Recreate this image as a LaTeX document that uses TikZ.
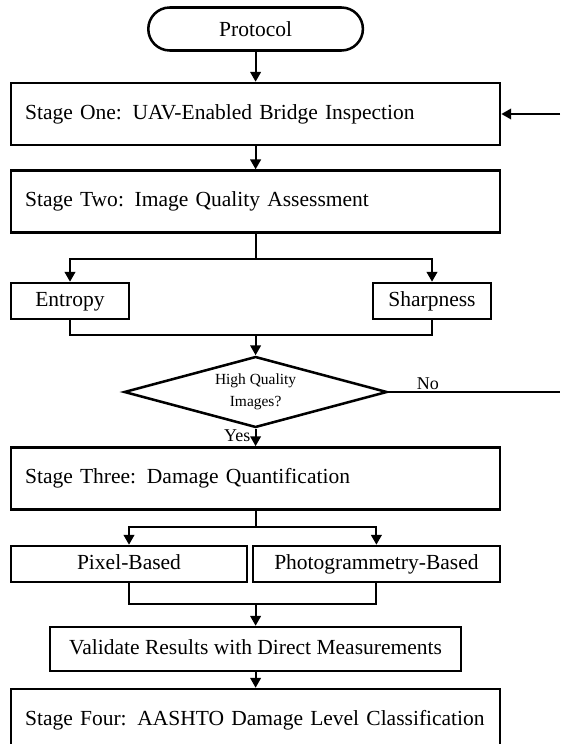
\documentclass[tikz,border=0pt]{standalone}
\usepackage{fontspec}
\setmainfont{Liberation Serif}
\usetikzlibrary{arrows.meta,shapes.misc,shapes.geometric}

\begin{document}
\begin{tikzpicture}[
        stagebox/.style={draw, rectangle, line width=1.8pt, minimum width=12.225cm, minimum height=1.55cm,
            text width=11.525cm, inner xsep=0.35cm, align=left, font=\fontsize{15.3}{18}\selectfont},
        smallbox/.style={draw, rectangle, line width=1.8pt, minimum height=0.9cm, inner sep=0pt,
            text height=10.5pt, text depth=2pt, font=\fontsize{15.3}{18}\selectfont},
        line/.style={line width=1.5pt},
        arrow/.style={line width=1.5pt, -{Triangle[width=7.5pt,length=7pt]}},
        lbl/.style={font=\fontsize{12.8}{15}\selectfont, inner sep=1pt}
    ]
        \useasboundingbox (0, 0) rectangle (14, -18.6);

        % Draw the start terminal
        \node[draw, rounded rectangle, line width=1.8pt, minimum width=5.6cm, minimum height=1.075cm,
            font=\fontsize{15.3}{18}\selectfont] (protocol) at (6.39, -0.725) {Protocol};

        % Draw the stage cells
        \node[stagebox] (stage1) at (6.39, -2.85) {Stage One: UAV-Enabled Bridge Inspection};
        \node[stagebox] (stage2) at (6.39, -5.04) {Stage Two: Image Quality Assessment};
        \node[stagebox] (stage3) at (6.39, -11.96) {Stage Three: Damage Quantification};
        \node[stagebox] (stage4) at (6.39, -18.0) {Stage Four: AASHTO Damage Level Classification};

        % Draw the quality measures
        \node[smallbox, minimum width=2.95cm] (entropy) at (1.75, -7.525) {Entropy};
        \node[smallbox, minimum width=2.95cm] (sharpness) at (10.8, -7.525) {Sharpness};

        % Draw the decision
        \node[draw, diamond, line width=1.8pt, aspect=3.7, minimum width=6.575cm, minimum height=1.775cm,
            inner sep=0pt, align=center, font=\fontsize{11}{15.5}\selectfont] (decision) at (6.39, -9.8)
            {High Quality\\Images?};

        % Draw the quantification methods
        \node[smallbox, minimum width=5.9cm] (pixel) at (3.225, -14.1) {Pixel-Based};
        \node[smallbox, minimum width=6.175cm] (photo) at (9.41, -14.1) {Photogrammetry-Based};
        \node[smallbox, minimum width=10.275cm, minimum height=1.1cm] (validate) at (6.39, -16.225)
            {Validate Results with Direct Measurements};

        % Junction points
        \coordinate (merge1) at (6.39, -8.375);
        \coordinate (split2) at (6.39, -13.175);
        \coordinate (merge2) at (6.39, -15.1);
        \coordinate (noend) at (14, -9.8);
        \coordinate (loopin) at (14, -2.85);

        % Draw the arrows
        \draw[arrow] (protocol.south) -- (stage1.north);
        \draw[arrow] (stage1.south) -- (stage2.north);
        \draw[arrow] (stage2.south) -- ++(0, -0.625) -| (entropy.north);
        \draw[arrow] (stage2.south) -- ++(0, -0.625) -| (sharpness.north);
        \draw[line] (entropy.south) |- (merge1) -| (sharpness.south);
        \draw[arrow] (merge1) -- (decision.north);
        \draw[arrow] (decision.south) -- node[lbl, left, xshift=-2pt, yshift=1pt] {Yes} (stage3.north);
        \draw[line] (decision.east) -- node[lbl, above, pos=0.23] {No} (noend);
        \draw[arrow] (loopin) -- (stage1.east);
        \draw[line] (stage3.south) -- (split2);
        \draw[arrow] (split2) -| (pixel.north);
        \draw[arrow] (split2) -| (photo.north);
        \draw[line] (pixel.south) |- (merge2) -| (photo.south);
        \draw[arrow] (merge2) -- (validate.north);
        \draw[arrow] (validate.south) -- (stage4.north);

    \end{tikzpicture}
\end{document}
